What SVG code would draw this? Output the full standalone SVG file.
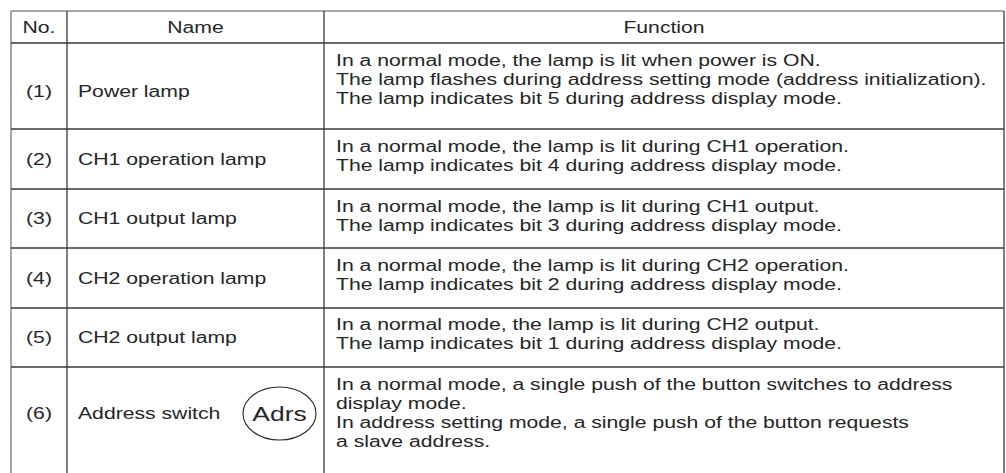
<svg xmlns="http://www.w3.org/2000/svg" width="1006" height="473" viewBox="0 0 1006 473">
  <style>
    text { font-family: "Liberation Sans", Arial, sans-serif; font-size: 15.8px; fill: #262626; }
    .c { text-anchor: middle; }
    .grid { stroke: #3a3a3a; stroke-width: 1.3; fill: none; }
    .edge { stroke: #8a8a8a; stroke-width: 1.5; fill: none; }
  </style>
  <rect width="1006" height="473" fill="#ffffff"/>

  <!-- table rules; the body runs on past the bottom edge -->
  <g id="rules">
    <line class="edge" x1="11" y1="11" x2="1004" y2="11"/>
    <line class="edge" x1="11" y1="11" x2="11" y2="473"/>
    <line class="grid" x1="1004" y1="11" x2="1004" y2="473"/>
    <line class="grid" x1="67" y1="11" x2="67" y2="473"/>
    <line class="grid" x1="324" y1="11" x2="324" y2="473"/>
    <line class="grid" x1="11" y1="43" x2="1004" y2="43"/>
    <line class="grid" x1="11" y1="129" x2="1004" y2="129"/>
    <line class="grid" x1="11" y1="189" x2="1004" y2="189"/>
    <line class="grid" x1="11" y1="248" x2="1004" y2="248"/>
    <line class="grid" x1="11" y1="308" x2="1004" y2="308"/>
    <line class="grid" x1="11" y1="367" x2="1004" y2="367"/>
  </g>

  <!-- all lettering is set extended (x 1.34) -->
  <g id="header">
    <text class="c" transform="translate(39 33) scale(1.34 1)">No.</text>
    <text class="c" transform="translate(195.5 33) scale(1.34 1)">Name</text>
    <text class="c" transform="translate(664 33) scale(1.34 1)">Function</text>
  </g>

  <g id="row1">
    <text class="c" transform="translate(39 97) scale(1.34 1)">(1)</text>
    <text transform="translate(78 97) scale(1.34 1)">Power lamp</text>
    <text transform="translate(336 66) scale(1.34 1)">In a normal mode, the lamp is lit when power is ON.</text>
    <text transform="translate(336 85) scale(1.34 1)">The lamp flashes during address setting mode (address initialization).</text>
    <text transform="translate(336 104) scale(1.34 1)">The lamp indicates bit 5 during address display mode.</text>
  </g>

  <g id="row2">
    <text class="c" transform="translate(39 164.5) scale(1.34 1)">(2)</text>
    <text transform="translate(78 164.5) scale(1.34 1)">CH1 operation lamp</text>
    <text transform="translate(336 151.5) scale(1.34 1)">In a normal mode, the lamp is lit during CH1 operation.</text>
    <text transform="translate(336 170.5) scale(1.34 1)">The lamp indicates bit 4 during address display mode.</text>
  </g>

  <g id="row3">
    <text class="c" transform="translate(39 224) scale(1.34 1)">(3)</text>
    <text transform="translate(78 224) scale(1.34 1)">CH1 output lamp</text>
    <text transform="translate(336 211.5) scale(1.34 1)">In a normal mode, the lamp is lit during CH1 output.</text>
    <text transform="translate(336 230.5) scale(1.34 1)">The lamp indicates bit 3 during address display mode.</text>
  </g>

  <g id="row4">
    <text class="c" transform="translate(39 283.5) scale(1.34 1)">(4)</text>
    <text transform="translate(78 283.5) scale(1.34 1)">CH2 operation lamp</text>
    <text transform="translate(336 270.5) scale(1.34 1)">In a normal mode, the lamp is lit during CH2 operation.</text>
    <text transform="translate(336 289.5) scale(1.34 1)">The lamp indicates bit 2 during address display mode.</text>
  </g>

  <g id="row5">
    <text class="c" transform="translate(39 343) scale(1.34 1)">(5)</text>
    <text transform="translate(78 343) scale(1.34 1)">CH2 output lamp</text>
    <text transform="translate(336 330) scale(1.34 1)">In a normal mode, the lamp is lit during CH2 output.</text>
    <text transform="translate(336 349) scale(1.34 1)">The lamp indicates bit 1 during address display mode.</text>
  </g>

  <g id="row6">
    <text class="c" transform="translate(39 418.5) scale(1.34 1)">(6)</text>
    <text transform="translate(78 418.5) scale(1.34 1)">Address switch</text>
    <g id="adrs-button">
      <ellipse cx="279.5" cy="413.5" rx="36.5" ry="26.5" fill="none" stroke="#262626" stroke-width="1.1"/>
      <text class="c" transform="translate(279.5 421) scale(1.26 1)" style="font-size:21px">Adrs</text>
    </g>
    <text transform="translate(336 390) scale(1.34 1)">In a normal mode, a single push of the button switches to address</text>
    <text transform="translate(336 409) scale(1.34 1)">display mode.</text>
    <text transform="translate(336 428) scale(1.34 1)">In address setting mode, a single push of the button requests</text>
    <text transform="translate(336 447) scale(1.34 1)">a slave address.</text>
  </g>
</svg>
